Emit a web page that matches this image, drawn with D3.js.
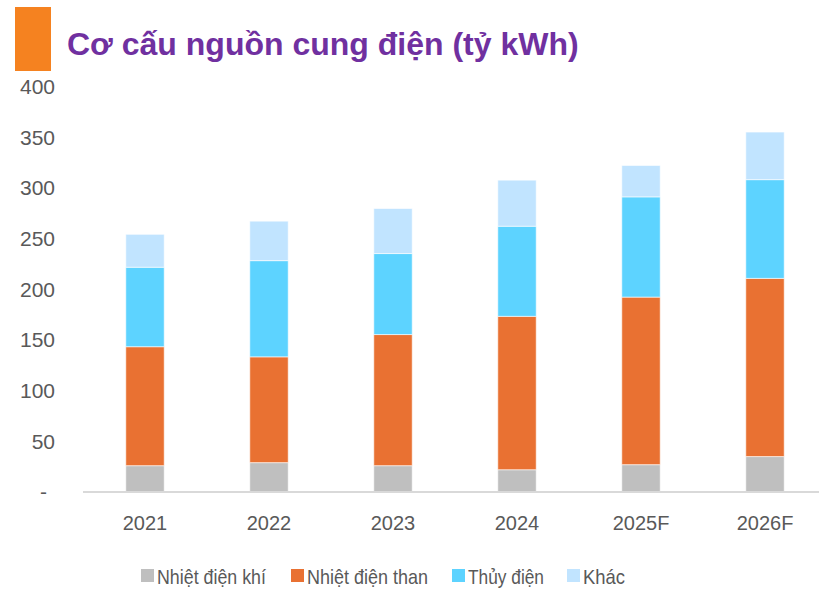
<!DOCTYPE html>
<html>
<head>
<meta charset="utf-8">
<script src="https://cdn.jsdelivr.net/npm/d3@7"></script>
<style>
  body { margin: 0; background: #fff; }
  svg { display: block; }
</style>
</head>
<body>
<svg id="chart" width="819" height="592"></svg>
<script>
const categories = ["2021", "2022", "2023", "2024", "2025F", "2026F"];
const seriesNames = ["Nhiệt điện khí", "Nhiệt điện than", "Thủy điện", "Khác"];
const gasValues = [26, 29, 26, 22, 27, 35];
const coalValues = [117.5, 104.5, 129.5, 151.5, 165.5, 176];
const hydroValues = [78.5, 95, 80, 89, 99, 97.5];
const otherValues = [32.5, 39, 44.5, 45.5, 31, 47];
const yTicks = [0, 50, 100, 150, 200, 250, 300, 350, 400];
const colors = ["#BFBFBF", "#E97132", "#5DD3FF", "#C1E4FF"];

const seriesValues = [gasValues, coalValues, hydroValues, otherValues];
const rows = categories.map((c, i) => {
  const r = { cat: c };
  seriesNames.forEach((s, j) => r[s] = seriesValues[j][i]);
  return r;
});
const stacked = d3.stack().keys(seriesNames)(rows);

const svg = d3.select("#chart");

// Title
svg.append("rect").attr("x", 15).attr("y", 7).attr("width", 36).attr("height", 64).attr("fill", "#F58220");
svg.append("text").attr("x", 67).attr("y", 55)
  .attr("font-family", "Liberation Sans, Arial, sans-serif")
  .attr("font-weight", "bold").attr("font-size", 32)
  .attr("fill", "#7030A0")
  .text("Cơ cấu nguồn cung điện (tỷ kWh)");

const x = d3.scaleBand().domain(categories).range([83, 827]).paddingInner(0.69).paddingOuter(0.345);
const y = d3.scaleLinear().domain([0, 400]).range([492, 87]);

// Bars
const g = svg.append("g");
g.selectAll("g.series").data(stacked).join("g")
  .attr("fill", (d, i) => colors[i])
  .selectAll("rect").data(d => d).join("rect")
  .attr("x", d => x(d.data.cat))
  .attr("width", x.bandwidth())
  .attr("y", d => y(d[1]))
  .attr("height", d => y(d[0]) - y(d[1]))
  .attr("stroke", "#ffffff").attr("stroke-opacity", 0.6).attr("stroke-width", 1);

// Axis baseline
svg.append("line").attr("x1", 83).attr("x2", 819).attr("y1", y(0)).attr("y2", y(0))
  .attr("stroke", "#D9D9D9").attr("stroke-width", 2);

// Y axis
const yAxis = d3.axisLeft(y).tickValues(yTicks).tickSize(0).tickPadding(0)
  .tickFormat(d => d === 0 ? "-" : d3.format("d")(d));
const ya = svg.append("g").attr("transform", "translate(55,0)").call(yAxis);
ya.select(".domain").remove();
ya.selectAll("text").attr("font-family", "Liberation Sans, Arial, sans-serif")
  .attr("font-size", 21).attr("fill", "#595959");
ya.selectAll(".tick").filter(d => d === 0).select("text").attr("dx", -8);

// X axis
const xAxis = d3.axisBottom(x).tickSize(0).tickPadding(0);
const xa = svg.append("g").attr("transform", "translate(0,516)").call(xAxis);
xa.select(".domain").remove();
xa.selectAll("text").attr("font-family", "Liberation Sans, Arial, sans-serif")
  .attr("font-size", 20).attr("fill", "#595959");

// Legend
const legendX = [141, 291, 452, 567];
const legendW = [109, 121, 76, 42];
const leg = svg.append("g");
seriesNames.forEach((s, i) => {
  const it = leg.append("g").attr("transform", `translate(${legendX[i]},569)`);
  it.append("rect").attr("x", 0).attr("y", 0).attr("width", 13).attr("height", 13).attr("fill", colors[i]);
  it.append("text").attr("x", 16).attr("y", 14.5)
    .attr("font-family", "Liberation Sans, Arial, sans-serif")
    .attr("font-size", 21).attr("fill", "#595959")
    .attr("textLength", legendW[i]).attr("lengthAdjust", "spacingAndGlyphs")
    .text(s);
});
</script>
</body>
</html>
